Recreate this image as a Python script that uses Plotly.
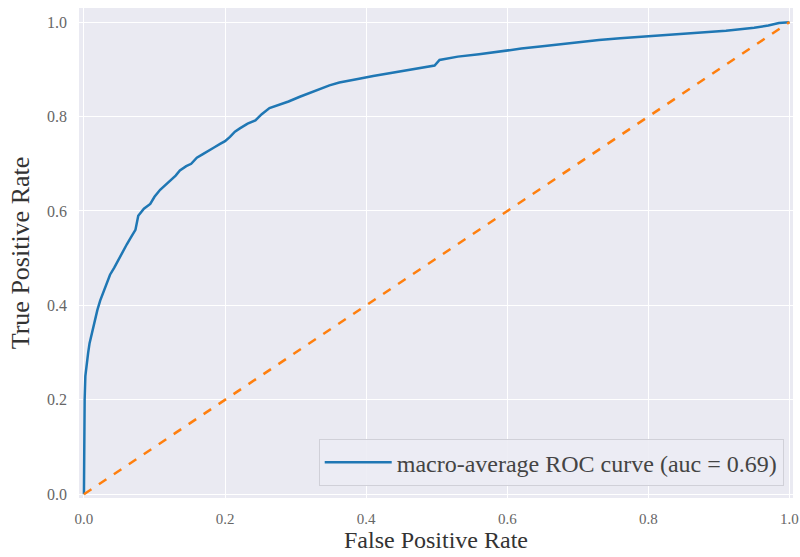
import plotly.graph_objects as go

fpr = [0.0, 0.0, 0.001, 0.002, 0.004, 0.006, 0.008, 0.011, 0.015, 0.019, 0.023, 0.028, 0.033, 0.037,
       0.043, 0.05, 0.056, 0.061, 0.067, 0.073, 0.077, 0.085, 0.094, 0.1, 0.108, 0.115, 0.122,
       0.13, 0.136, 0.145, 0.152, 0.16, 0.168, 0.177, 0.185, 0.193, 0.2, 0.207, 0.214, 0.221,
       0.232, 0.243, 0.252, 0.263, 0.275, 0.29, 0.306, 0.32, 0.335, 0.348, 0.362, 0.378, 0.39,
       0.41, 0.43, 0.448, 0.47, 0.49, 0.497, 0.504, 0.53, 0.56, 0.589, 0.62, 0.65, 0.674, 0.7,
       0.73, 0.76, 0.8, 0.844, 0.88, 0.91, 0.93, 0.95, 0.97, 0.985, 1.0]
tpr = [0.0, 0.12, 0.2, 0.25, 0.28, 0.3, 0.32, 0.34, 0.37, 0.39, 0.41, 0.43, 0.45, 0.465,
       0.48, 0.5, 0.515, 0.53, 0.545, 0.56, 0.59, 0.605, 0.615, 0.63, 0.645, 0.655, 0.665,
       0.675, 0.686, 0.695, 0.7, 0.713, 0.72, 0.727, 0.735, 0.742, 0.748, 0.757, 0.768, 0.775,
       0.785, 0.792, 0.805, 0.818, 0.824, 0.832, 0.842, 0.85, 0.858, 0.866, 0.872, 0.876, 0.88,
       0.886, 0.891, 0.895, 0.9, 0.905, 0.908, 0.92, 0.927, 0.932, 0.938, 0.944, 0.949, 0.953, 0.958,
       0.962, 0.966, 0.97, 0.975, 0.978, 0.982, 0.985, 0.988, 0.993, 0.998, 1.0]

chance_x = [0.0, 1.0]
chance_y = [0.0, 1.0]
auc_label = "macro-average ROC curve (auc = 0.69)"
tick_vals = [0.0, 0.2, 0.4, 0.6, 0.8, 1.0]
tick_text = ["0.0", "0.2", "0.4", "0.6", "0.8", "1.0"]

SERIF = "Liberation Serif, DejaVu Serif, serif"

fig = go.Figure()
fig.add_trace(go.Scatter(x=fpr, y=tpr, mode="lines", name=auc_label,
                         line=dict(color="#1f77b4", width=2.5)))
fig.add_trace(go.Scatter(x=chance_x, y=chance_y, mode="lines", showlegend=False,
                         line=dict(color="#ff7f0e", width=2.5, dash="dash")))

axis_common = dict(
    showgrid=True, gridcolor="white", gridwidth=1.2,
    zeroline=False, showline=False, ticks="", automargin=False,
)
fig.update_xaxes(range=[-0.007, 1.005], ticklabelstandoff=10,
                 tickvals=tick_vals, ticktext=tick_text,
                 tickfont=dict(family=SERIF, size=15, color="#666666"),
                 title=dict(text="False Positive Rate",
                            font=dict(family=SERIF, size=24, color="#333333"), standoff=4),
                 **axis_common)
fig.update_yaxes(range=[-0.008, 1.03], ticklabelstandoff=11,
                 tickvals=tick_vals, ticktext=tick_text,
                 tickfont=dict(family=SERIF, size=16, color="#666666"),
                 title=dict(text="True Positive Rate",
                            font=dict(family=SERIF, size=26, color="#333333"), standoff=9),
                 **axis_common)

fig.update_layout(
    width=800, height=557,
    margin=dict(l=79, r=7, t=8, b=59),
    font=dict(family=SERIF),
    plot_bgcolor="#EAEAF2", paper_bgcolor="white",
    legend=dict(x=0.987, y=0.024, xanchor="right", yanchor="bottom",
                bgcolor="rgba(236,236,244,0.9)", bordercolor="#D0D0D8", borderwidth=1,
                itemwidth=67,
                font=dict(family=SERIF, size=24, color="#444444")),
    showlegend=True,
)
fig.write_html("out.html")
